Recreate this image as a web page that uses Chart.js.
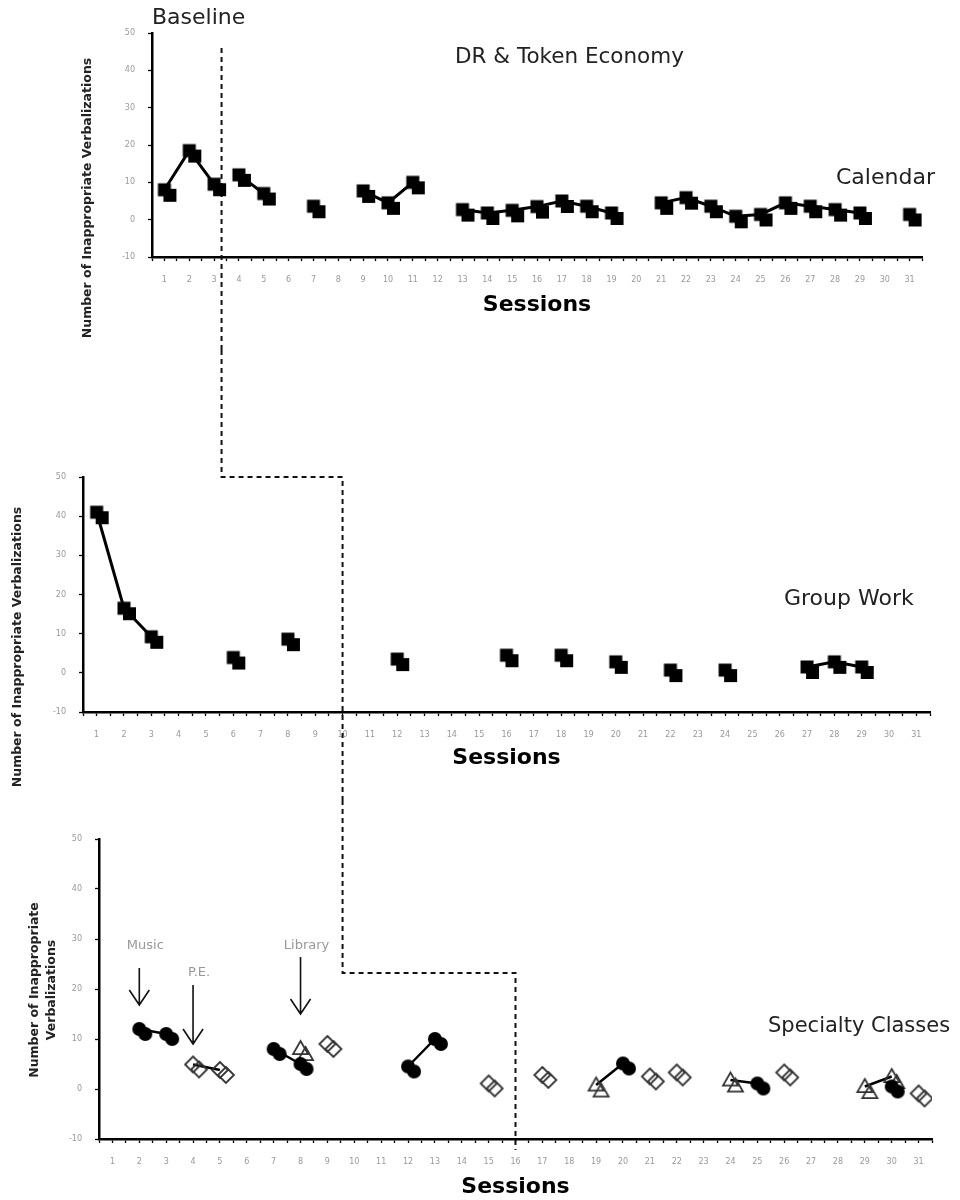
<!DOCTYPE html>
<html>
<head>
<meta charset="utf-8">
<script src="https://cdn.jsdelivr.net/npm/chart.js@4.4.1/dist/chart.umd.min.js"></script>
<style>
  body { margin: 0; background: #fff; }
  #wrap { position: relative; width: 960px; height: 1200px; }
  canvas { position: absolute; left: 0; }
</style>
</head>
<body>
<div id="wrap">
  <canvas id="calendar" width="960" height="350" style="top:0"></canvas>
  <canvas id="group" width="960" height="450" style="top:350px"></canvas>
  <canvas id="specialty" width="960" height="400" style="top:800px"></canvas>
</div>
<script>
// sessions 1..31
const sessions = [1, 2, 3, 4, 5, 6, 7, 8, 9, 10, 11, 12, 13, 14, 15, 16, 17, 18, 19, 20, 21, 22, 23, 24, 25, 26, 27, 28, 29, 30, 31];
const yTicks = [-10, 0, 10, 20, 30, 40, 50];

// Calendar
const calendar = [8, 18.5, 9.5, 12, 7, null, 3.6, null, 7.7, 4.5, 10, null, 2.7, 1.8, 2.5, 3.5, 5, 3.6, 1.8, null,
  4.5, 5.9, 3.6, 0.9, 1.4, 4.5, 3.6, 2.7, 1.8, null, 1.4];
const calendarPhase = 3.3;

// Group Work
const groupWork = [41, 16.5, 9.2, null, null, 3.9, null, 8.6, null, null, null, 3.5, null, null, null, 4.5, null, 4.5, null, 2.8,
  null, 0.7, null, 0.7, null, null, 1.5, 2.8, 1.5, null, null];
const groupPhase = 10;

// Specialty Classes
const music = [null, 12, 11, null, null, null, 8, 5, null, null, null, 4.5, 10, null, null, null, null, null, null, 5.1,
  null, null, null, null, 1.1, null, null, null, null, 0.5, null];
const pe = [null, null, null, 4.9, 3.8, null, null, null, 9, null, null, null, null, null, 1.1, null, 2.8, null, null, null,
  2.5, 3.3, null, null, null, 3.3, null, null, null, null, -0.9];
const library = [null, null, null, null, null, null, null, 8.1, null, null, null, null, null, null, null, null, null, null, 0.8, null,
  null, null, null, 1.8, null, null, null, null, 0.5, 2.5, null];
const specialtyLinks = [
  [['music', 2], ['music', 3]],
  [['pe', 4], ['pe', 5]],
  [['music', 7], ['music', 8]],
  [['music', 12], ['music', 13]],
  [['library', 19], ['music', 20]],
  [['library', 24], ['music', 25]],
  [['library', 29], ['library', 30]]
];
const specialtyPhase = 16;
const specialtyStep = 23.2;

// arrows marking first session of each class
const arrowClasses = ['Music', 'P.E.', 'Library'];
const arrowSessions = [2, 4, 8];
const arrowFrom = [24.2, 20.8, 26.4];
const arrowTo = [16.8, 9, 15];
const arrowLabelY = [28.6, 23.2, 28.6];

const FONT = '"DejaVu Sans", Verdana, sans-serif';
Chart.defaults.font.family = FONT;

// doubled markers, like the scanned figure
function marker(draw, r, dx, dy) {
  const c = document.createElement('canvas');
  c.width = c.height = Math.ceil(2 * (r + Math.max(dx, dy) + 3));
  const g = c.getContext('2d');
  const m = c.width / 2;
  draw(g, m + dx, m + dy, r);
  draw(g, m, m, r);
  return c;
}
const squareMark = marker((g, x, y, r) => { g.fillStyle = '#000'; g.fillRect(x - r, y - r, 2 * r, 2 * r); }, 6.5, 5.5, 5.5);
const circleMark = marker((g, x, y, r) => {
  g.fillStyle = '#000'; g.beginPath(); g.arc(x, y, r, 0, Math.PI * 2); g.fill();
}, 7, 6, 5);
const diamondMark = marker((g, x, y, r) => {
  g.strokeStyle = '#333'; g.lineWidth = 1.8; g.beginPath();
  g.moveTo(x, y - r); g.lineTo(x + r, y); g.lineTo(x, y + r); g.lineTo(x - r, y); g.closePath(); g.stroke();
}, 8, 6, 5);
const triangleMark = marker((g, x, y, r) => {
  g.strokeStyle = '#333'; g.lineWidth = 1.8; g.beginPath();
  g.moveTo(x, y - r); g.lineTo(x + r, y + r * 0.75); g.lineTo(x - r, y + r * 0.75); g.closePath(); g.stroke();
}, 7.5, 5, 6);

function phasePoints(values, lo, hi) {
  return sessions.map((s, i) => ({ x: s, y: (s > lo && s < hi) ? values[i] : null }));
}
function lineSet(data, mark) {
  return { data, pointStyle: mark, pointRadius: 6, borderColor: '#000', borderWidth: 3, spanGaps: false, fill: false };
}

function xAxis(height, titlePad) {
  return {
    type: 'linear', min: 0.5, max: 31.5,
    ticks: {
      stepSize: 0.5, autoSkip: false, maxRotation: 0, minRotation: 0, padding: 14,
      color: '#999', font: { size: 8 },
      callback: v => Number.isInteger(v) ? String(v) : ''
    },
    grid: { drawOnChartArea: false, color: '#000', tickLength: 4, tickWidth: 1.3 },
    border: { color: '#000', width: 2.5 },
    title: { display: true, text: 'Sessions', color: '#000', font: { size: 22, weight: 'bold' }, padding: { top: 0, bottom: titlePad } },
    afterFit: s => { s.height = height; }
  };
}
function yAxis(width) {
  return {
    min: yTicks[0], max: yTicks[yTicks.length - 1],
    afterBuildTicks: s => { s.ticks = yTicks.map(v => ({ value: v })); },
    ticks: { color: '#999', font: { size: 8 }, padding: 13 },
    grid: { drawOnChartArea: false, color: '#000', tickLength: 4, tickWidth: 1.3 },
    border: { color: '#000', width: 2.5 },
    afterFit: s => { s.width = width; }
  };
}

function decor(spec) {
  return {
    id: 'decor',
    beforeDatasetsDraw(chart) {
      const g = chart.ctx;
      const pts = spec.phase(chart);
      g.save();
      g.setLineDash([5, 4]);
      g.lineWidth = 2;
      g.strokeStyle = '#111';
      g.beginPath();
      pts.forEach((p, i) => i ? g.lineTo(p[0], p[1]) : g.moveTo(p[0], p[1]));
      g.stroke();
      g.restore();
    },
    afterDraw(chart) {
      const g = chart.ctx;
      g.save();
      g.textBaseline = 'middle';
      spec.texts.forEach(t => {
        g.font = `${t.size}px ${FONT}`;
        g.fillStyle = '#222';
        g.textAlign = 'left';
        g.fillText(t.text, t.x, t.y);
      });
      // y axis title
      const yt = spec.yTitle;
      g.font = `bold 12.5px ${FONT}`;
      g.fillStyle = '#222';
      g.textAlign = 'center';
      yt.lines.forEach((line, i) => {
        g.save();
        g.translate(yt.x + i * yt.gap, yt.y);
        g.rotate(-Math.PI / 2);
        g.fillText(line, 0, 0);
        g.restore();
      });
      if (spec.arrows) {
        const xs = chart.scales.x, ys = chart.scales.y;
        arrowClasses.forEach((name, i) => {
          const x = xs.getPixelForValue(arrowSessions[i]);
          const y0 = ys.getPixelForValue(arrowFrom[i]);
          const y1 = ys.getPixelForValue(arrowTo[i]);
          g.strokeStyle = '#111';
          g.lineWidth = 1.6;
          g.beginPath();
          g.moveTo(x, y0); g.lineTo(x, y1);
          g.moveTo(x - 10, y1 - 15); g.lineTo(x, y1); g.lineTo(x + 10, y1 - 15);
          g.stroke();
          g.font = `13px ${FONT}`;
          g.fillStyle = '#999';
          g.textAlign = 'center';
          g.fillText(name, x + 6, ys.getPixelForValue(arrowLabelY[i]));
        });
      }
      g.restore();
    }
  };
}

function baseOptions(pad, yWidth, xHeight, titlePad) {
  return {
    responsive: false,
    animation: false,
    events: [],
    layout: { padding: pad },
    scales: { x: xAxis(xHeight, titlePad), y: yAxis(yWidth) },
    plugins: { legend: { display: false }, tooltip: { enabled: false } }
  };
}

const calendarChart = new Chart(document.getElementById('calendar'), {
  type: 'line',
  data: {
    datasets: [
      lineSet(phasePoints(calendar, 0, calendarPhase), squareMark),
      lineSet(phasePoints(calendar, calendarPhase, 99), squareMark)
    ]
  },
  options: baseOptions({ left: 80, right: 38, top: 33, bottom: 0 }, 72, 93, 32),
  plugins: [decor({
    phase: chart => {
      const x = chart.scales.x.getPixelForValue(calendarPhase);
      return [[x, chart.scales.y.getPixelForValue(46)], [x, chart.height]];
    },
    texts: [
      { text: 'Baseline', x: 152, y: 18, size: 22 },
      { text: 'DR & Token Economy', x: 455, y: 57, size: 21.5 },
      { text: 'Calendar', x: 836, y: 178, size: 22 }
    ],
    yTitle: { lines: ['Number of Inappropriate Verbalizations'], x: 88, y: 198, gap: 0 }
  })]
});

const groupChart = new Chart(document.getElementById('group'), {
  type: 'line',
  data: {
    datasets: [
      lineSet(phasePoints(groupWork, 0, groupPhase), squareMark),
      lineSet(phasePoints(groupWork, groupPhase, 99), squareMark)
    ]
  },
  options: baseOptions({ left: 10, right: 30, top: 127, bottom: 0 }, 73, 88, 29),
  plugins: [decor({
    phase: chart => {
      const x0 = calendarChart.scales.x.getPixelForValue(calendarPhase);
      const x1 = chart.scales.x.getPixelForValue(groupPhase);
      const y = chart.scales.y.getPixelForValue(50);
      return [[x0, 0], [x0, y], [x1, y], [x1, chart.height]];
    },
    texts: [{ text: 'Group Work', x: 784, y: 249, size: 22 }],
    yTitle: { lines: ['Number of Inappropriate Verbalizations'], x: 18, y: 297, gap: 0 }
  })]
});

const classes = { music, pe, library };
const specialtySets = [
  { data: sessions.map((s, i) => ({ x: s, y: music[i] })), pointStyle: circleMark, pointRadius: 6, showLine: false },
  { data: sessions.map((s, i) => ({ x: s, y: pe[i] })), pointStyle: diamondMark, pointRadius: 6, showLine: false },
  { data: sessions.map((s, i) => ({ x: s, y: library[i] })), pointStyle: triangleMark, pointRadius: 6, showLine: false }
].concat(specialtyLinks.map(link => ({
  data: link.map(([cls, s]) => ({ x: s, y: classes[cls][s - 1] })),
  pointRadius: 0, borderColor: '#000', borderWidth: 2.5, fill: false
})));

const specialtyChart = new Chart(document.getElementById('specialty'), {
  type: 'line',
  data: { datasets: specialtySets },
  options: baseOptions({ left: 20, right: 28, top: 39, bottom: 0 }, 79, 61, 0),
  plugins: [decor({
    phase: chart => {
      const x0 = groupChart.scales.x.getPixelForValue(groupPhase);
      const x1 = chart.scales.x.getPixelForValue(specialtyPhase);
      const y = chart.scales.y.getPixelForValue(specialtyStep);
      return [[x0, 0], [x0, y], [x1, y], [x1, chart.scales.y.getPixelForValue(-12.2)]];
    },
    texts: [{ text: 'Specialty Classes', x: 768, y: 227, size: 21 }],
    yTitle: { lines: ['Number of Inappropriate', 'Verbalizations'], x: 35, y: 190, gap: 17 },
    arrows: true
  })]
});
</script>
</body>
</html>
